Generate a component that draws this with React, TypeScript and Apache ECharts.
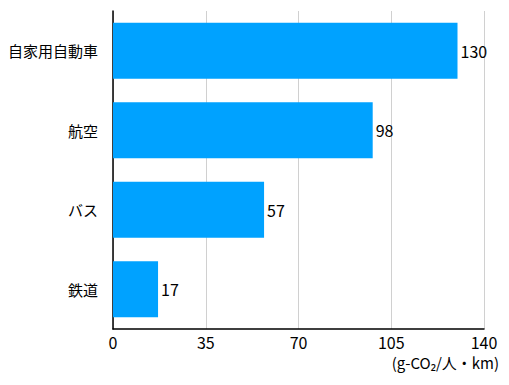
import React, { useEffect, useRef } from "react";
import * as echarts from "echarts";

const categories = ["自家用自動車", "航空", "バス", "鉄道"];
const values = [130, 98, 57, 17];
const unitLabel = "(g-CO₂/人・km)";

export default function App() {
  const ref = useRef<HTMLDivElement>(null);
  useEffect(() => {
    const chart = echarts.init(ref.current!, null, { renderer: "svg" });
    const font = "'Noto Sans CJK JP', 'Noto Sans', sans-serif";
    chart.setOption({
      animation: false,
      grid: { left: 113, right: 25, top: 11, bottom: 56, containLabel: false },
      xAxis: {
        type: "value",
        min: 0,
        max: 140,
        interval: 35,
        axisLine: { show: true, lineStyle: { color: "#000", width: 1.5 } },
        axisTick: { show: false },
        splitLine: { show: true, lineStyle: { color: "#d0d0d0", width: 1 } },
        axisLabel: { color: "#000", fontSize: 16, fontFamily: font, margin: 5 },
      },
      yAxis: {
        type: "category",
        data: categories,
        inverse: true,
        axisLine: { show: true, lineStyle: { color: "#000", width: 1.5 } },
        axisTick: { show: false },
        axisLabel: { color: "#000", fontSize: 15, fontFamily: font, margin: 15 },
      },
      series: [
        {
          type: "bar",
          data: values,
          barWidth: 56,
          itemStyle: { color: "#00A2FF" },
          label: {
            show: true,
            position: "right",
            distance: 3,
            color: "#000",
            fontSize: 16,
            fontFamily: font,
          },
        },
      ],
      graphic: [
        {
          type: "text",
          right: 10,
          top: 355,
          style: { text: unitLabel, fill: "#000", fontSize: 15, fontFamily: font },
        },
      ],
    });
    return () => chart.dispose();
  }, []);
  return (
    <div
      ref={ref}
      style={{ position: "absolute", left: 0, top: 0, width: 509, height: 385 }}
    />
  );
}
